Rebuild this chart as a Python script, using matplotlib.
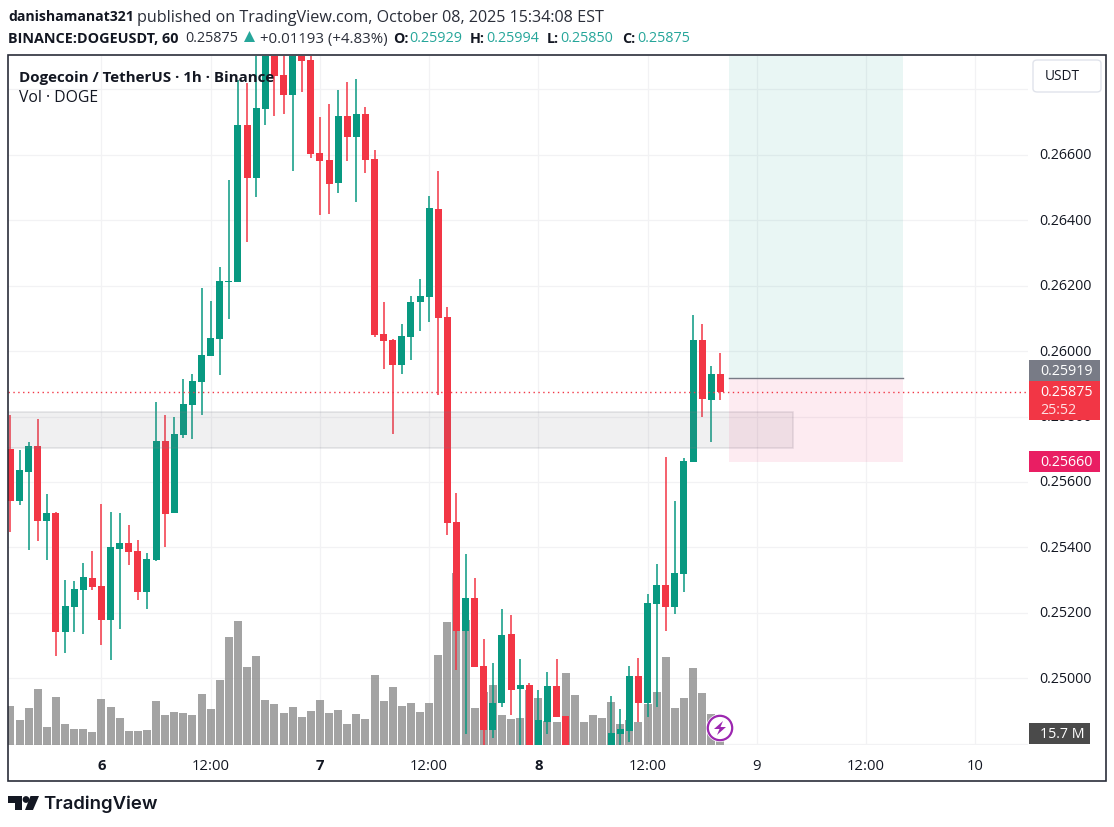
import matplotlib
matplotlib.use("Agg")
import matplotlib.pyplot as plt
from matplotlib.patches import Rectangle, Polygon, Circle, FancyBboxPatch

W, H = 1114, 828
plt.rcParams['font.family'] = ['Open Sans', 'DejaVu Sans']

hours = list(range(-10, 69))
opens = [.25700,.25541,.25630,.25710,.25480,.25504,.25141,.25218,.25269,.25306,
         .25281,.25178,.25394,.25413,.25388,.25263,.25361,.25725,.25504,.25743,
         .25835,.25905,.25984,.26036,.26210,.26210,.26689,.26528,.26738,.26934,
         .26842,.26781,.26950,.26888,.26604,.26582,.26512,.26717,.26653,.26723,
         .26585,.26051,.26033,.25957,.26042,.26149,.26164,.26433,.26103,.25477,
         .25144,.25245,.25038,.24843,.24925,.25135,.24967,.24980,.24751,.24867,
         .24977,.24885,.24751,.24720,.24735,.24725,.24740,.24830,.24839,.25007,
         .24925,.25227,.25287,.25218,.25318,.25661,.26033,.25850,.25929]
highs = [.25804,.25697,.25722,.25792,.25563,.25507,.25300,.25297,.25352,.25388,
         .25532,.25507,.25504,.25468,.25422,.25382,.25844,.25804,.25798,.25914,
         .25929,.26192,.26152,.26256,.26521,.26827,.26818,.26950,.26979,.26960,
         .26950,.26990,.26980,.26934,.26714,.26754,.26796,.26821,.26830,.26745,
         .26613,.26149,.26036,.26082,.26167,.26219,.26473,.26549,.26134,.25566,
         .25380,.25306,.25120,.25047,.25212,.25193,.25059,.24986,.24964,.25019,
         .25059,.24885,.24770,.24750,.24770,.24760,.24946,.24907,.25038,.25062,
         .25257,.25349,.25676,.25541,.25673,.26109,.26082,.25954,.25994]
lows = [.25446,.25529,.25391,.25419,.25361,.25068,.25077,.25141,.25135,.25269,
        .25102,.25056,.25150,.25346,.25239,.25212,.25358,.25403,.25504,.25734,
        .25731,.25804,.25984,.25926,.26097,.26210,.26332,.26470,.26689,.26717,
        .26723,.26549,.26790,.26589,.26414,.26417,.26482,.26579,.26454,.26543,
        .26042,.25944,.25746,.25929,.25972,.26060,.26088,.25865,.25437,.25025,
        .24830,.25035,.24781,.24818,.24913,.24888,.24781,.24740,.24730,.24830,
        .24882,.24730,.24700,.24690,.24710,.24700,.24720,.24770,.24806,.24867,
        .24882,.24913,.25144,.25196,.25263,.25661,.25798,.25722,.25850]
closes = [.25541,.25636,.25710,.25480,.25504,.25141,.25221,.25272,.25309,.25278,
          .25178,.25400,.25413,.25385,.25263,.25364,.25725,.25501,.25746,.25838,
          .25908,.25987,.26039,.26213,.26213,.26689,.26528,.26741,.26934,.26839,
          .26781,.26950,.26885,.26601,.26579,.26509,.26717,.26653,.26723,.26582,
          .26048,.26030,.25957,.26045,.26149,.26167,.26436,.26100,.25474,.25144,
          .25245,.25035,.24843,.24925,.25132,.24964,.24980,.24751,.24873,.24977,
          .24882,.24751,.24720,.24735,.24725,.24740,.24833,.24845,.25007,.24925,
          .25230,.25287,.25218,.25321,.25664,.26033,.25853,.25929,.25875]
volumes = [61.2,39.3,58.1,87.9,28.3,75.4,33,25.1,25.1,20.4,72.2,59.7,42.4,22,22,23.6,
           69.1,47.1,51.8,50.2,47.1,80.1,56.5,102,169.6,194.7,122.5,139.7,70.7,64.4,
           50.2,59.7,44,53.4,70.7,50.2,55,33,48.7,40.8,109.9,69.1,91.1,61.2,65.9,51.8,
           65.9,141.3,193.1,270,196.3,58.1,83.2,94.2,47.1,40.8,42.4,86.4,73.8,37.7,36.1,
           113,78.5,36.1,47.1,42.4,67.5,33,39.3,36.1,64.4,83.2,138.2,58.1,73.8,120.9,
           81.6,48.7,15.7]

price_ticks = [0.248,0.250,0.252,0.254,0.256,0.258,0.260,0.262,0.264,0.266,0.268]
price_labels = ['','0.25000','0.25200','0.25400','0.25600','0.25800','0.26000','0.26200','0.26400','0.26600','']
time_ticks = [0,12,24,36,48,60,72,84,96]
time_labels = ['6','12:00','7','12:00','8','12:00','9','12:00','10']
zone_low, zone_high = 0.25703, 0.25813
zone_end = 76
entry, stop, target = 0.25919, 0.25660, 0.27200
pos_start, pos_end = 69, 88.1
last_price = 0.25875

UP, DOWN = '#089981', '#f23645'
GRID = '#f2f2f4'

def rect_ax(l, t, r, b):
    return [l/W, 1-b/H, (r-l)/W, (b-t)/H]

fig = plt.figure(figsize=(W/100, H/100), dpi=100, facecolor='white')
AX_BOX = rect_ax(8, 57.2, 1028, 746.2)
ax = fig.add_axes(AX_BOX, zorder=1)
ax.set_xlim(-10.27, 101.8)
ax.set_ylim(0.247963, 0.269002)

ax_v = ax.twinx()
ax_v.set_zorder(2)
ax_v.patch.set_visible(False)
ax_v.set_ylim(0, 1081.7)
ax_v.axis('off')
ax_v.bar(hours, volumes, width=8/9.1, color='#7d7d7d', alpha=0.7, lw=0)

ax.set_xticks(time_ticks)
ax.set_xticklabels(time_labels, fontsize=10.7, color='#131722')
ax.set_yticks(price_ticks)
ax.set_yticklabels([])
for p, lab in zip(price_ticks, price_labels):
    ax.annotate(lab, xy=(1, p), xycoords=ax.get_yaxis_transform(), xytext=(11, 0),
                textcoords='offset pixels', va='center', ha='left',
                fontsize=10.3, color='#131722', annotation_clip=False)
ax.tick_params(axis='both', length=0)
ax.tick_params(axis='x', pad=9)
for lbl, t in zip(ax.get_xticklabels(), time_labels):
    if t in ('6', '7', '8'):
        lbl.set_fontweight('bold')
ax.grid(True, color=GRID, lw=0.9)
ax.set_axisbelow(True)
for s in ax.spines.values():
    s.set_visible(False)

ax_c = fig.add_axes(AX_BOX, zorder=3, sharex=ax, sharey=ax)
ax_c.patch.set_visible(False)
ax_c.axis('off')
colors = [UP if c >= o else DOWN for o, c in zip(opens, closes)]
ax_c.vlines(hours, lows, highs, colors=colors, lw=1.1, zorder=2)
ax_c.bar(hours, [abs(c-o) for o, c in zip(opens, closes)],
         bottom=[min(o, c) for o, c in zip(opens, closes)],
         width=7/9.1, color=colors, lw=0, zorder=3)

ax_c.add_patch(Rectangle((-11, zone_low), zone_end+11, zone_high-zone_low,
                         facecolor='#787b86', edgecolor='none', alpha=0.11, zorder=4))
ax_c.add_patch(Rectangle((-11, zone_low), zone_end+11, zone_high-zone_low,
                         facecolor='none', edgecolor='#787b86', alpha=0.2, lw=1.1, zorder=4))
ax_c.add_patch(Rectangle((pos_start, entry), pos_end-pos_start, target-entry,
                         facecolor='#089981', alpha=0.085, lw=0, zorder=5))
ax_c.add_patch(Rectangle((pos_start, stop), pos_end-pos_start, entry-stop,
                         facecolor='#e91e63', alpha=0.085, lw=0, zorder=5))
ax_c.plot([pos_start, pos_end], [entry, entry], color='#787b86', lw=1.0, zorder=6)
ax_c.axhline(last_price, color='#f23645', lw=1, ls=(0, (1, 2.5)), zorder=6)

def ftext(x, y, s, **kw):
    kw.setdefault('va', 'center')
    kw.setdefault('ha', 'left')
    kw.setdefault('color', '#131722')
    return fig.text(x/W, 1-y/H, s, zorder=20, **kw)

def frect(l, t, r, b, **kw):
    p = Rectangle((l/W, 1-b/H), (r-l)/W, (b-t)/H, transform=fig.transFigure, zorder=10, **kw)
    fig.add_artist(p)
    return p

# frame
frect(8, 55.5, 1105.5, 781.5, facecolor='none', edgecolor='#2a2e39', lw=1.2)

# price labels on the axis
frect(1029, 361, 1100, 382, facecolor='#787b86', lw=0)
frect(1029, 382, 1100, 421, facecolor='#f23645', lw=0)
frect(1029, 452, 1100, 473, facecolor='#e91e63', lw=0)
frect(1029, 724, 1090, 745, facecolor='#4a4a4a', lw=0)
ftext(1040, 372, '0.25919', color='white', fontsize=10.3)
ftext(1040, 392.5, '0.25875', color='white', fontsize=10.3)
ftext(1040, 411, '25:52', color='#ffdfe2', fontsize=10.3)
ftext(1040, 463, '0.25660', color='white', fontsize=10.3)
ftext(1040, 735, '15.7 M', color='white', fontsize=10.3)

# currency button
btn = FancyBboxPatch((1033/W, 1-93/H), 68/W, 32/H, boxstyle='round,pad=0,rounding_size=0.004',
                     transform=fig.transFigure, facecolor='white', edgecolor='#e0e3eb', lw=1, zorder=10,
                     mutation_aspect=1)
fig.add_artist(btn)
ftext(1062, 77, 'USDT', ha='center', fontsize=9.8)

# header
ftext(8, 17, 'danishamanat321', fontweight='bold', fontsize=10.1)
ftext(137, 17.5, 'published on TradingView.com, October 08, 2025 15:34:08 EST', fontsize=11.6, color='#2a2e39')
ftext(8, 39, 'BINANCE:DOGEUSDT, 60', fontweight='bold', fontsize=10.4)
ftext(185, 39, '0.25875', fontsize=10.4, color='#2a2e39')
fig.add_artist(Polygon([(244/W, 1-43/H), (255/W, 1-43/H), (249.5/W, 1-32/H)], closed=True,
                       transform=fig.transFigure, facecolor='#26a69a', lw=0, zorder=20))
ftext(260, 39, '+0.01193 (+4.83%)', fontsize=10.8, color='#2a2e39')
for xl, lab, xv, val in [(393, 'O:', 409, '0.25929'), (470, 'H:', 486, '0.25994'),
                         (547, 'L:', 560, '0.25850'), (622, 'C:', 637, '0.25875')]:
    ftext(xl, 39, lab, fontweight='bold', fontsize=10.3)
    ftext(xv, 39, val, fontsize=10.4, color='#26a69a')

# legend
ftext(19, 78, 'Dogecoin / TetherUS · 1h · Binance', fontweight='bold', fontsize=10.9)
ftext(19, 98, 'Vol · DOGE', fontsize=11.3)

# lightning badge
fig.add_artist(Circle((720, H-729), 14, transform=None, facecolor='white', edgecolor='none', zorder=11))
fig.add_artist(Circle((720, H-729), 12.2, transform=None, facecolor='white', edgecolor='#9c27b0', lw=1.6, zorder=12))
fig.add_artist(Polygon([(723, H-722), (714, H-730), (719.5, H-730), (717, H-736), (726, H-728), (720.5, H-728)],
                       closed=True, transform=None, facecolor='#9c27b0', lw=0, zorder=13))

# logo
logo = '#131722'
for pts in [[(8, 797), (22, 797), (22, 811), (15, 811), (15, 804), (8, 804)],
            [(30.5, 797), (39, 797), (33, 811), (25, 811)]]:
    fig.add_artist(Polygon([(x/W, 1-y/H) for x, y in pts], closed=True, transform=fig.transFigure,
                           facecolor=logo, lw=0, zorder=20))
fig.add_artist(Circle((26, H-800.5), 3.4, transform=None, facecolor=logo, lw=0, zorder=20))
ftext(43, 804.5, 'TradingView', fontsize=13.4, fontweight='semibold', family=['Inter', 'DejaVu Sans'], color=logo)

fig.savefig('out.png', dpi=100)
